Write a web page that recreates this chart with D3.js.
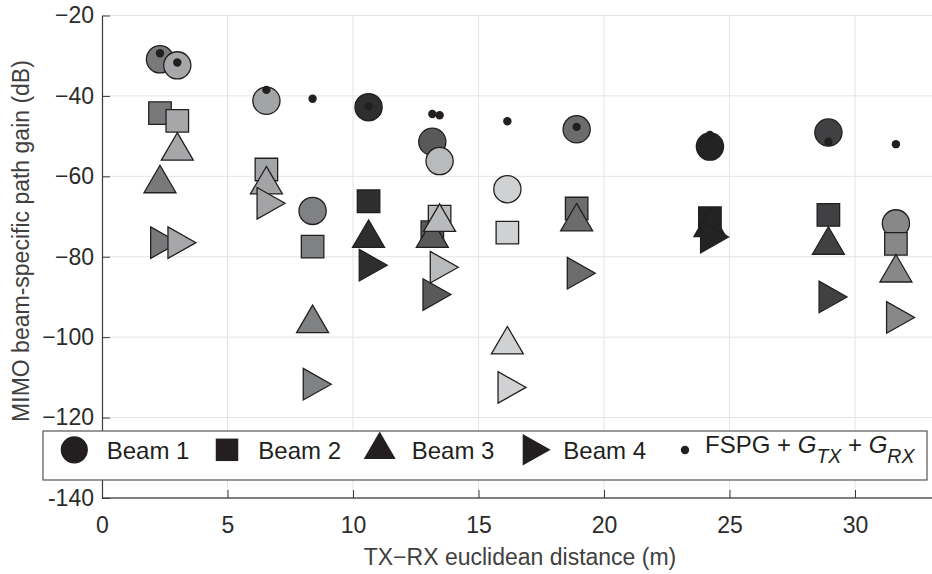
<!DOCTYPE html>
<html><head><meta charset="utf-8">
<script src="https://cdn.jsdelivr.net/npm/d3@7"></script>
<style>
body{margin:0;background:#fff;}
svg{display:block;font-family:"Liberation Sans",Arial,Helvetica,sans-serif;}
</style></head>
<body><svg id="c" width="932" height="574"></svg>
<script>
// ---- data ----
const distances = [2.31, 3.0, 6.55, 8.39, 10.62, 13.16, 13.45, 16.15, 18.91, 24.22, 28.94, 31.63];
const locationFill = ["#78797b","#a6a7a9","#a3a4a6","#808183","#2e2e30","#58595b","#b9babc","#d0d1d3","#6b6c6e","#232324","#414143","#87888a"];
const beam1 = [-30.9, -32.4, -41.2, -68.6, -42.8, -51.4, -56.2, -63.2, -48.3, -52.6, -49.1, -71.7];
const beam2 = [-44.3, -46.2, -58.3, -77.5, -66.2, -73.9, -70.0, -74.0, -68.0, -70.4, -69.6, -76.8];
const beam3 = [-61.8, -53.7, -62.1, -96.6, -75.4, -75.4, -71.4, -101.9, -71.3, -72.7, -77.1, -84.0];
const beam4 = [-76.5, -76.5, -66.7, -111.7, -82.1, -89.4, -82.6, -112.5, -84.1, -75.1, -90.0, -95.1];
const fspg  = [-29.4, -31.7, -38.5, -40.7, -42.6, -44.5, -44.8, -46.3, -47.7, -49.7, -51.4, -52.0];
const xTicks = [0, 5, 10, 15, 20, 25, 30];
const yTicks = [-140, -120, -100, -80, -60, -40, -20];
const yTickLabels = ["-140", "\u2212120", "\u2212100", "\u221280", "\u221260", "\u221240", "\u221220"];
const beamNames = ["Beam 1", "Beam 2", "Beam 3", "Beam 4"];
const xLabel = "TX\u2212RX euclidean distance (m)";
const yLabel = "MIMO beam-specific path gain (dB)";

// ---- setup ----
const svg = d3.select("#c");
const x = d3.scaleLinear().domain([0, 33]).range([102, 930.3]);
const y = d3.scaleLinear().domain([-140, -20]).range([498, 15.5]);
const ink = "#231f20", axisCol = "#3a3a3a";

// marker shapes (centroid at origin)
const shapes = {
  circle: r => `M${r},0A${r},${r} 0 1,1 ${-r},0A${r},${r} 0 1,1 ${r},0Z`,
  square: s => `M${-s/2},${-s/2}H${s/2}V${s/2}H${-s/2}Z`,
  triUp: (w, h) => `M0,${-h*2/3}L${w/2},${h/3}L${-w/2},${h/3}Z`,
  triRight: (w, h) => `M${w*2/3},0L${-w/3},${h/2}L${-w/3},${-h/2}Z`
};
const beamShape = [
  () => shapes.circle(13.6),
  () => shapes.square(22.5),
  () => shapes.triUp(32, 27.5),
  () => shapes.triRight(28, 31.5)
];

// grid
const g = svg.append("g");
g.selectAll(".gx").data(xTicks.filter(d => d > 0)).join("line")
  .attr("x1", d => x(d)).attr("x2", d => x(d)).attr("y1", y(-20)).attr("y2", y(-140))
  .attr("stroke", "#e4e4e4").attr("stroke-width", 1);
g.selectAll(".gy").data(yTicks.filter(d => d > -140)).join("line")
  .attr("x1", x(0)).attr("x2", 932).attr("y1", d => y(d)).attr("y2", d => y(d))
  .attr("stroke", "#e4e4e4").attr("stroke-width", 1);

// axes
const ax = svg.append("g").attr("transform", `translate(0,${y(-140)})`)
  .call(d3.axisBottom(x).tickValues(xTicks).tickSizeInner(-8).tickSizeOuter(0).tickPadding(19).tickFormat(d3.format("d")));
ax.select(".domain").attr("stroke", "#555").attr("stroke-width", 1.6).attr("d", `M${x(0)},0H932`);
ax.selectAll(".tick line").attr("stroke", axisCol);
ax.selectAll("text").attr("font-size", 23).attr("fill", "#2b2b2b").attr("font-family", "Liberation Sans, Arial, sans-serif");

const ay = svg.append("g").attr("transform", `translate(${x(0)},0)`)
  .call(d3.axisLeft(y).tickValues(yTicks).tickSizeInner(-8).tickSizeOuter(0).tickPadding(8)
    .tickFormat((d, i) => yTickLabels[i]));
ay.select(".domain").attr("stroke", axisCol).attr("stroke-width", 1.2);
ay.selectAll(".tick line").attr("stroke", axisCol);
ay.selectAll("text").attr("font-size", 23).attr("fill", "#2b2b2b").attr("font-family", "Liberation Sans, Arial, sans-serif");

// axis labels
svg.append("text").attr("x", 520).attr("y", 565).attr("text-anchor", "middle")
  .attr("font-size", 23).attr("fill", "#404040").text(xLabel);
svg.append("text").attr("transform", "translate(29,241) rotate(-90)").attr("text-anchor", "middle")
  .attr("font-size", 23).attr("fill", "#404040").text(yLabel);

// markers
const beams = [beam1, beam2, beam3, beam4];
const pts = [];
distances.forEach((d, i) => beams.forEach((b, k) => pts.push({d, v: b[i], k, fill: locationFill[i]})));
svg.append("g").selectAll("path").data(pts).join("path")
  .attr("transform", p => `translate(${x(p.d)},${y(p.v)})`)
  .attr("d", p => beamShape[p.k]())
  .attr("fill", p => p.fill).attr("stroke", ink).attr("stroke-width", 1.3).attr("stroke-linejoin", "miter");
svg.append("g").selectAll("circle").data(distances).join("circle")
  .attr("cx", d => x(d)).attr("cy", (d, i) => y(fspg[i])).attr("r", 4.2).attr("fill", ink);

// legend
const lg = svg.append("g");
lg.append("rect").attr("x", 43).attr("y", 431).attr("width", 884).attr("height", 49)
  .attr("fill", "#fff").attr("stroke", "#555").attr("stroke-width", 1.2);
const legendMarkerX = [74.3, 227, 379.7, 532];
const legendTextX = [106.7, 258.3, 411.7, 563.3];
beamNames.forEach((name, k) => {
  lg.append("path").attr("transform", `translate(${legendMarkerX[k]},449.8)`).attr("d", beamShape[k]()).attr("fill", ink);
  lg.append("text").attr("x", legendTextX[k]).attr("y", 459.3).attr("font-size", 24).attr("fill", ink).text(name);
});
lg.append("circle").attr("cx", 685).attr("cy", 450).attr("r", 4.2).attr("fill", ink);
const ft = lg.append("text").attr("x", 705).attr("y", 453.3).attr("font-size", 24).attr("fill", ink);
ft.append("tspan").text("FSPG + ");
ft.append("tspan").attr("font-style", "italic").text("G");
ft.append("tspan").attr("font-style", "italic").attr("font-size", 19.5).attr("dy", 10).text("TX");
ft.append("tspan").attr("dy", -10).text(" + ");
ft.append("tspan").attr("font-style", "italic").text("G");
ft.append("tspan").attr("font-style", "italic").attr("font-size", 19.5).attr("dy", 10).text("RX");
</script></body></html>
